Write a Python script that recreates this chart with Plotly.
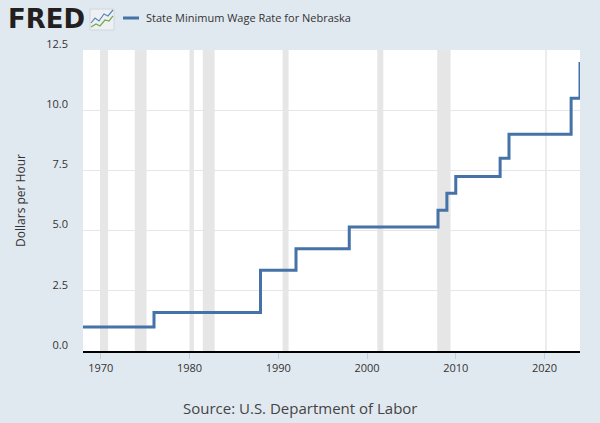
import plotly.graph_objects as go

dates = ["1968-01-01", "1976-01-01", "1988-01-01", "1992-01-01", "1998-01-01",
         "2008-01-01", "2009-01-01", "2010-01-01", "2015-01-01", "2016-01-01",
         "2023-01-01", "2024-01-01"]
wages = [1.00, 1.60, 3.35, 4.25, 5.15, 5.85, 6.55, 7.25, 8.00, 9.00, 10.50, 12.00]

recessions = [("1969-12-01", "1970-11-01"), ("1973-11-01", "1975-03-01"),
              ("1980-01-01", "1980-07-01"), ("1981-07-01", "1982-11-01"),
              ("1990-07-01", "1991-03-01"), ("2001-03-01", "2001-11-01"),
              ("2007-12-01", "2009-06-01"), ("2020-02-01", "2020-04-01")]

y_ticks = [0.0, 2.5, 5.0, 7.5, 10.0, 12.5]
y_tick_text = ["0.0", "2.5", "5.0", "7.5", "10.0", "12.5"]
x_ticks = ["1970-01-01", "1980-01-01", "1990-01-01", "2000-01-01", "2010-01-01", "2020-01-01"]
x_tick_text = ["1970", "1980", "1990", "2000", "2010", "2020"]

series_name = "State Minimum Wage Rate for Nebraska"
line_color = "#4572a7"
bg = "#e1e9f0"
font_family = "Open Sans, Noto Sans, sans-serif"

fig = go.Figure()
fig.add_trace(go.Scatter(x=dates, y=wages, mode="lines", line=dict(color=line_color, width=3, shape="hv"),
                         name=series_name, showlegend=False))

for s, e in recessions:
    fig.add_vrect(x0=s, x1=e, fillcolor="#e6e6e6", opacity=1, line_width=0, layer="below")

fig.update_layout(
    width=600, height=423,
    margin=dict(l=83, r=20, t=50, b=72),
    paper_bgcolor=bg, plot_bgcolor="white",
    font=dict(family=font_family, color="#333333", size=11),
    showlegend=False,
    xaxis=dict(type="date", range=["1968-01-01", "2024-01-01"], tickvals=x_ticks, ticktext=x_tick_text,
               showgrid=False, zeroline=False, showline=True, linecolor="black", linewidth=2,
               ticks="outside", ticklen=6, tickcolor="#c0cfe0", tickwidth=1,
               tickfont=dict(size=11, color="#333333")),
    yaxis=dict(range=[0, 12.5], tickvals=y_ticks, ticktext=y_tick_text, showgrid=True,
               gridcolor="#e6e6e6", gridwidth=1, zeroline=False, showline=False,
               ticks="", ticklabelshift=-6, ticklabelstandoff=14,
               tickfont=dict(size=11, color="#333333"),
               title=dict(text="Dollars per Hour", font=dict(size=12, color="#333333"), standoff=18)),
)

# legend entry (header)
fig.add_shape(type="line", xref="paper", yref="paper",
              x0=(123 - 83) / 497, x1=(139 - 83) / 497, y0=(351 - 18) / 301, y1=(351 - 18) / 301,
              line=dict(color=line_color, width=3))
fig.add_annotation(text=series_name, xref="paper", yref="paper", x=(144 - 83) / 497, y=(351 - 18) / 301,
                   xanchor="left", yanchor="middle", showarrow=False,
                   font=dict(size=11, color="#333333", family=font_family))

# FRED logo
fig.add_annotation(text="<b>FRED</b>", xref="paper", yref="paper", x=(6 - 83) / 497, y=(351 - 19) / 301,
                   xanchor="left", yanchor="middle", showarrow=False,
                   font=dict(size=26, color="#231f20", family="DejaVu Sans, sans-serif"))
ix0, iy0 = 90, 9
fig.add_shape(type="rect", xref="paper", yref="paper",
              x0=(ix0 - 83) / 497, x1=(ix0 + 24 - 83) / 497,
              y0=(351 - iy0) / 301, y1=(351 - iy0 - 21) / 301,
              fillcolor="#eef1f4", line=dict(color="#d0d6dc", width=1))
def pth(pts):
    return "M " + " L ".join(f"{(px - 83) / 497:.5f},{(351 - py) / 301:.5f}" for px, py in pts)
fig.add_shape(type="path", xref="paper", yref="paper",
              path=pth([(91, 23), (95, 18), (99, 21), (104, 14), (108, 16), (113, 10)]),
              line=dict(color="#5b87b8", width=1.2))
fig.add_shape(type="path", xref="paper", yref="paper",
              path=pth([(91, 27), (96, 24), (100, 26), (105, 20), (109, 21), (113, 16)]),
              line=dict(color="#7aa64a", width=1.2))

# source
fig.add_annotation(text="Source: U.S. Department of Labor", xref="paper", yref="paper",
                   x=(300 - 83) / 497, y=(351 - 408) / 301, xanchor="center", yanchor="middle",
                   showarrow=False, font=dict(size=15, color="#444444", family=font_family))

fig.write_html("out.html", config={"displayModeBar": False},
               post_script="document.body.style.margin='0';document.body.style.overflow='hidden';")
